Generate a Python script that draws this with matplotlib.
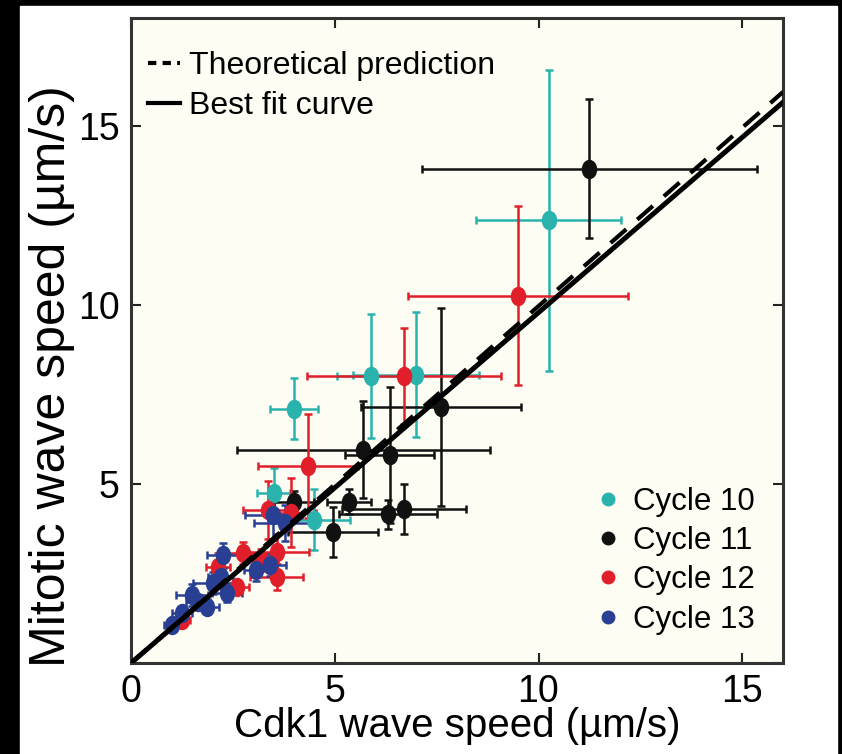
import numpy as np
import matplotlib
matplotlib.use("Agg")
import matplotlib.pyplot as plt
from matplotlib.path import Path
from matplotlib.transforms import Affine2D
from matplotlib.patches import Rectangle
from matplotlib.lines import Line2D

plt.rcParams['font.family'] = ['Liberation Sans', 'DejaVu Sans']

# Cycle 10 (teal)
c10_x = [10.25, 5.9, 7.0, 4.0, 3.5, 4.5]
c10_y = [12.35, 8.0, 8.05, 7.1, 4.75, 4.0]
c10_xerr = [1.78, 0.84, 1.55, 0.59, 0.4, 0.87]
c10_yerr = [4.2, 1.73, 1.75, 0.85, 0.7, 0.85]

# Cycle 11 (black)
c11_x = [11.25, 7.6, 5.7, 6.35, 5.35, 6.3, 6.7, 4.95, 4.0]
c11_y = [13.8, 7.15, 5.95, 5.8, 4.5, 4.15, 4.3, 3.65, 4.5]
c11_xerr = [4.12, 1.96, 3.1, 1.09, 0.55, 1.2, 1.52, 1.1, 0.5]
c11_yerr = [1.93, 2.77, 1.35, 1.9, 0.35, 0.4, 0.7, 0.7, 0.3]

# Cycle 12 (red)
c12_x = [9.5, 6.7, 4.35, 3.36, 3.93, 2.75, 2.14, 3.58, 3.2, 3.58, 2.6, 1.25]
c12_y = [10.25, 8.0, 5.5, 4.27, 4.2, 3.07, 2.68, 3.1, 2.87, 2.4, 2.12, 1.2]
c12_xerr = [2.7, 2.38, 1.23, 0.6, 0.6, 0.5, 0.3, 0.8, 0.4, 0.65, 0.3, 0.2]
c12_yerr = [2.5, 1.34, 1.45, 0.8, 0.95, 0.3, 0.4, 0.5, 0.3, 0.35, 0.2, 0.15]

# Cycle 13 (blue)
c13_x = [3.49, 3.78, 2.26, 3.41, 3.07, 2.01, 1.5, 2.36, 1.87, 1.25, 1.0, 2.2, 1.65]
c13_y = [4.13, 3.9, 3.01, 2.74, 2.6, 2.23, 1.9, 1.95, 1.56, 1.4, 1.06, 2.4, 1.7]
c13_xerr = [0.7, 0.75, 0.4, 0.4, 0.3, 0.5, 0.4, 0.37, 0.3, 0.25, 0.2, 0.3, 0.3]
c13_yerr = [0.7, 0.5, 0.35, 0.3, 0.3, 0.3, 0.3, 0.25, 0.2, 0.2, 0.15, 0.3, 0.2]

fit_x = [0, 16]
fit_slope = 0.978
theory_slope = 0.996

cycles = [
    ("Cycle 10", "#2ab3ad", c10_x, c10_y, c10_xerr, c10_yerr),
    ("Cycle 11", "#111111", c11_x, c11_y, c11_xerr, c11_yerr),
    ("Cycle 12", "#e11f2b", c12_x, c12_y, c12_xerr, c12_yerr),
    ("Cycle 13", "#283f93", c13_x, c13_y, c13_xerr, c13_yerr),
]

# tall oval marker (the original figure is slightly stretched vertically)
oval = Path.unit_circle().transformed(Affine2D().scale(0.78, 1.0))

fig = plt.figure(figsize=(8.42, 7.54), dpi=100, facecolor="black")
fig.add_artist(Rectangle((20 / 842, 0), 817 / 842, 748 / 754,
                         transform=fig.transFigure, color="white", zorder=-5))
ax = fig.add_axes([131 / 842, 91 / 754, 652 / 842, 645 / 754])
ax.set_facecolor("#fdfdf4")

for name, col, x, y, xe, ye in cycles:
    ax.errorbar(x, y, xerr=xe, yerr=ye, fmt="none", ecolor=col, elinewidth=1.8,
                capsize=3, capthick=1.8, zorder=2)
    ax.plot(x, y, linestyle="none", marker=oval, markersize=13, color=col, zorder=3)

fx = np.array(fit_x)
ax.plot(fx, theory_slope * fx, color="black", lw=3.0, dashes=(5, 3.5), zorder=4)
ax.plot(fx, fit_slope * fx, color="black", lw=3.6, zorder=4)

ax.set_xlim(0, 16)
ax.set_ylim(0, 18)
ax.set_xticks([0, 5, 10, 15])
ax.set_yticks([0, 5, 10, 15])
ax.set_yticklabels(["", "5", "10", "15"])
ax.tick_params(direction="in", length=7, width=1.5, top=True, right=True,
               labelsize=27, color="#222222", pad=8)
for s in ax.spines.values():
    s.set_linewidth(2.2)
    s.set_color("#333333")

ax.set_xlabel("Cdk1 wave speed (µm/s)", fontsize=29, labelpad=-2)
ax.set_ylabel("Mitotic wave speed (µm/s)", fontsize=36)
ax.yaxis.set_label_coords(-0.086, 0.445)

line_handles = [Line2D([], [], color="black", lw=3.0, dashes=(2, 1.5)),
                Line2D([], [], color="black", lw=3.0)]
leg1 = ax.legend(line_handles, ["Theoretical prediction", "Best fit curve"],
                 loc="upper left", frameon=False, fontsize=23, handlelength=1.0,
                 handletextpad=0.3, labelspacing=0.3, borderaxespad=0.2,
                 bbox_to_anchor=(-0.004, 0.978))
ax.add_artist(leg1)

dot_handles = [Line2D([], [], linestyle="none", marker="o", markersize=9, color=c[1])
               for c in cycles]
ax.legend(dot_handles, [c[0] for c in cycles], loc="lower right", frameon=False,
          fontsize=22.5, handlelength=0.6, handletextpad=0.5, labelspacing=0.3,
          borderaxespad=0.3, bbox_to_anchor=(0.99, 0.01))

fig.savefig("out.png", dpi=100, facecolor=fig.get_facecolor())
